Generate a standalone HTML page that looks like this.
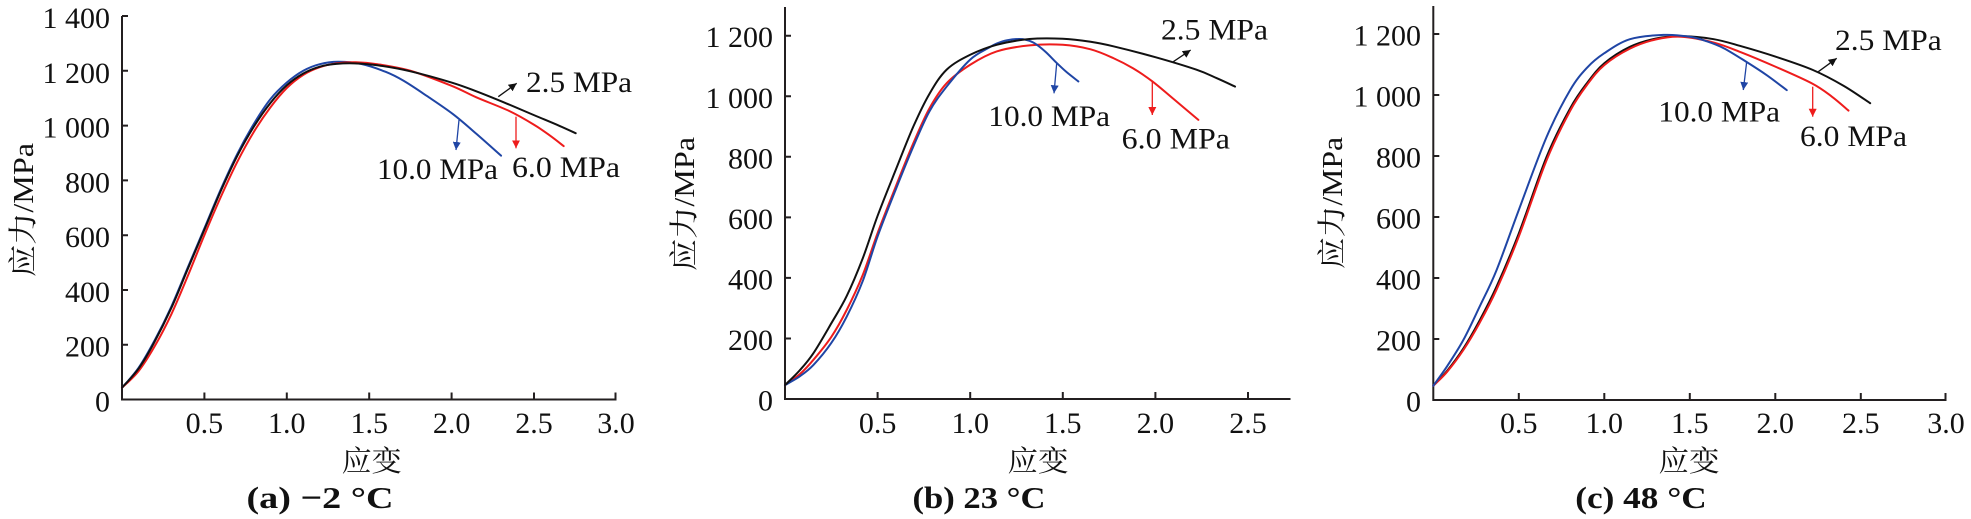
<!DOCTYPE html>
<html><head><meta charset="utf-8"><style>
html,body{margin:0;padding:0;background:#fff;font-family:"Liberation Serif","Times New Roman","DejaVu Serif","Noto Serif CJK SC",serif;}
svg{display:block;}
text{font-family:"Liberation Serif","Times New Roman","DejaVu Serif","Noto Serif CJK SC",serif;}
.t{font-size:30px;fill:#111;}
.cj{font-family:"Liberation Serif","Noto Serif CJK SC","DejaVu Serif",serif;font-size:29px;fill:#111;}
.cap{font-size:31px;font-weight:bold;fill:#111;}
.ax{stroke:#231f20;stroke-width:2;fill:none;}
.c{fill:none;stroke-width:2;stroke-linejoin:round;stroke-linecap:round;}
</style></head><body>
<svg width="1971" height="519" viewBox="0 0 1971 519" xmlns="http://www.w3.org/2000/svg" font-family="'Liberation Serif','DejaVu Serif','Noto Serif CJK SC',serif">
<defs>
<marker id="ak" markerUnits="userSpaceOnUse" markerWidth="10" markerHeight="8" refX="8" refY="4" orient="auto"><path d="M0,0 L8,4 L0,8 z" fill="#111"/></marker>
<marker id="ar" markerUnits="userSpaceOnUse" markerWidth="10" markerHeight="8" refX="8" refY="4" orient="auto"><path d="M0,0 L8,4 L0,8 z" fill="#ee1c1c"/></marker>
<marker id="ab" markerUnits="userSpaceOnUse" markerWidth="10" markerHeight="8" refX="8" refY="4" orient="auto"><path d="M0,0 L8,4 L0,8 z" fill="#1f45a5"/></marker>
</defs>

<!-- ===== Panel A ===== -->
<path class="ax" d="M122,16 V400.5 M121,399.5 H616.5"/>
<path class="ax" d="M122,16 h6 M122,70.8 h6 M122,125.6 h6 M122,180.4 h6 M122,235.2 h6 M122,290 h6 M122,344.7 h6
M204.4,399.5 v-7 M286.8,399.5 v-7 M369.2,399.5 v-7 M451.6,399.5 v-7 M534,399.5 v-7 M615.5,399.5 v-7"/>
<g class="t" text-anchor="end" font-family="'Liberation Serif','DejaVu Serif',serif">
<text x="110" y="411.5">0</text>
<text x="110" y="356.7">200</text>
<text x="110" y="302">400</text>
<text x="110" y="247.2">600</text>
<text x="110" y="192.4">800</text>
<text x="110" y="137.6">1 000</text>
<text x="110" y="82.8">1 200</text>
<text x="110" y="28">1 400</text>
</g>
<g class="t" text-anchor="middle" font-family="'Liberation Serif','DejaVu Serif',serif">
<text x="204.4" y="433">0.5</text>
<text x="286.8" y="433">1.0</text>
<text x="369.2" y="433">1.5</text>
<text x="451.6" y="433">2.0</text>
<text x="534" y="433">2.5</text>
<text x="616" y="433">3.0</text>
</g>
<text class="cj" x="371.7" y="471" text-anchor="middle" textLength="60" lengthAdjust="spacingAndGlyphs">应变</text>
<text class="cj" transform="translate(33,210) rotate(-90)" text-anchor="middle" textLength="134" lengthAdjust="spacingAndGlyphs">应力/MPa</text>
<text class="cap" x="320" y="508" text-anchor="middle" textLength="147" lengthAdjust="spacingAndGlyphs">(a) −2 °C</text>
<g transform="translate(122,399.5) scale(164.8,-0.27395)">
<polyline class="c" vector-effect="non-scaling-stroke" stroke="#1f45a5" points="0,43 0.1,115 0.2,218 0.3,340 0.4,483 0.5,625 0.6,768 0.7,897 0.8,1006 0.9,1096 1.0,1157 1.1,1200 1.2,1224 1.31,1233 1.45,1225 1.6,1196 1.71,1163 1.85,1108 2.01,1041 2.15,970 2.3,890"/>
<polyline class="c" vector-effect="non-scaling-stroke" stroke="#ee1c1c" points="0,43 0.1,103 0.2,196 0.3,312 0.4,452 0.5,600 0.6,740 0.7,868 0.8,977 0.9,1066 1.0,1137 1.1,1185 1.2,1213 1.3,1227 1.42,1231 1.55,1224 1.75,1200 2.0,1145 2.15,1103 2.35,1053 2.5,1003 2.6,962 2.68,925"/>
<polyline class="c" vector-effect="non-scaling-stroke" stroke="#111" points="0,43 0.1,112 0.19,202 0.3,335 0.4,478 0.5,620 0.6,762 0.7,890 0.8,996 0.9,1082 1.0,1147 1.1,1190 1.2,1215 1.3,1225 1.41,1227 1.55,1220 1.75,1198 2.0,1157 2.15,1125 2.32,1084 2.5,1038 2.65,1000 2.753,972"/>
</g>
<line x1="498.3" y1="96.7" x2="516.7" y2="83.3" stroke="#111" stroke-width="1.3" marker-end="url(#ak)"/>
<line x1="459" y1="120" x2="456" y2="150" stroke="#1f45a5" stroke-width="1.3" marker-end="url(#ab)"/>
<line x1="516" y1="116.7" x2="516" y2="148.3" stroke="#ee1c1c" stroke-width="1.3" marker-end="url(#ar)"/>
<g class="t" font-family="'Liberation Serif','DejaVu Serif',serif">
<text x="526" y="92" textLength="106" lengthAdjust="spacingAndGlyphs">2.5 MPa</text>
<text x="377" y="179" textLength="121" lengthAdjust="spacingAndGlyphs">10.0 MPa</text>
<text x="512" y="177" textLength="108" lengthAdjust="spacingAndGlyphs">6.0 MPa</text>
</g>

<!-- ===== Panel B ===== -->
<path class="ax" d="M785,7 V400 M784,399 H1290.5"/>
<path class="ax" d="M785,35.7 h6 M785,96.3 h6 M785,156.8 h6 M785,217.4 h6 M785,277.9 h6 M785,338.5 h6
M877.6,399 v-7 M970.2,399 v-7 M1062.8,399 v-7 M1155.4,399 v-7 M1248,399 v-7"/>
<g class="t" text-anchor="end" font-family="'Liberation Serif','DejaVu Serif',serif">
<text x="773" y="410.5">0</text>
<text x="773" y="350">200</text>
<text x="773" y="289.4">400</text>
<text x="773" y="228.9">600</text>
<text x="773" y="168.3">800</text>
<text x="773" y="107.8">1 000</text>
<text x="773" y="47.2">1 200</text>
</g>
<g class="t" text-anchor="middle" font-family="'Liberation Serif','DejaVu Serif',serif">
<text x="877.6" y="433">0.5</text>
<text x="970.2" y="433">1.0</text>
<text x="1062.8" y="433">1.5</text>
<text x="1155.4" y="433">2.0</text>
<text x="1248" y="433">2.5</text>
</g>
<text class="cj" x="1038" y="471" text-anchor="middle" textLength="61" lengthAdjust="spacingAndGlyphs">应变</text>
<text class="cj" transform="translate(694,204) rotate(-90)" text-anchor="middle" textLength="134" lengthAdjust="spacingAndGlyphs">应力/MPa</text>
<text class="cap" x="979" y="508" text-anchor="middle" textLength="133" lengthAdjust="spacingAndGlyphs">(b) 23 °C</text>
<g transform="translate(785,399) scale(185.2,-0.30275)">
<polyline class="c" vector-effect="non-scaling-stroke" stroke="#ee1c1c" points="0,46 0.08,82 0.153,129 0.25,205 0.333,294 0.42,410 0.5,548 0.6,705 0.693,845 0.78,960 0.873,1043 1.0,1104 1.143,1148 1.32,1168 1.5,1170 1.65,1155 1.773,1126 1.88,1092 1.984,1049 2.1,990 2.232,922"/>
<polyline class="c" vector-effect="non-scaling-stroke" stroke="#1f45a5" points="0,46 0.08,75 0.153,112 0.25,185 0.333,272 0.42,390 0.5,537 0.6,695 0.693,834 0.78,950 0.873,1032 1.0,1121 1.1,1160 1.143,1174 1.2,1185 1.27,1189 1.32,1183 1.36,1170 1.41,1145 1.467,1110 1.52,1080 1.584,1049"/>
<polyline class="c" vector-effect="non-scaling-stroke" stroke="#111" points="0,46 0.08,95 0.153,151 0.25,250 0.333,340 0.42,465 0.5,605 0.6,760 0.693,900 0.78,1008 0.873,1088 1.0,1137 1.143,1170 1.32,1189 1.5,1190 1.65,1180 1.773,1165 2.0,1129 2.22,1088 2.33,1060 2.43,1032"/>
</g>
<line x1="1173.3" y1="61.7" x2="1190.7" y2="50" stroke="#111" stroke-width="1.3" marker-end="url(#ak)"/>
<line x1="1056.7" y1="63.3" x2="1054" y2="93.3" stroke="#1f45a5" stroke-width="1.3" marker-end="url(#ab)"/>
<line x1="1152.3" y1="81.7" x2="1152.3" y2="115" stroke="#ee1c1c" stroke-width="1.3" marker-end="url(#ar)"/>
<g class="t" font-family="'Liberation Serif','DejaVu Serif',serif">
<text x="1161" y="39.5" textLength="107" lengthAdjust="spacingAndGlyphs">2.5 MPa</text>
<text x="988.3" y="126" textLength="121.7" lengthAdjust="spacingAndGlyphs">10.0 MPa</text>
<text x="1121.7" y="148.3" textLength="108.3" lengthAdjust="spacingAndGlyphs">6.0 MPa</text>
</g>

<!-- ===== Panel C ===== -->
<path class="ax" d="M1433.3,6 V401 M1432.3,400 H1946.5"/>
<path class="ax" d="M1433.3,34 h6 M1433.3,95 h6 M1433.3,156 h6 M1433.3,217 h6 M1433.3,278 h6 M1433.3,339 h6
M1518.8,400 v-7 M1604.3,400 v-7 M1689.8,400 v-7 M1775.3,400 v-7 M1860.8,400 v-7 M1945.5,400 v-7"/>
<g class="t" text-anchor="end" font-family="'Liberation Serif','DejaVu Serif',serif">
<text x="1421" y="411.5">0</text>
<text x="1421" y="350.5">200</text>
<text x="1421" y="289.5">400</text>
<text x="1421" y="228.5">600</text>
<text x="1421" y="167.5">800</text>
<text x="1421" y="106.5">1 000</text>
<text x="1421" y="45.5">1 200</text>
</g>
<g class="t" text-anchor="middle" font-family="'Liberation Serif','DejaVu Serif',serif">
<text x="1518.8" y="433">0.5</text>
<text x="1604.3" y="433">1.0</text>
<text x="1689.8" y="433">1.5</text>
<text x="1775.3" y="433">2.0</text>
<text x="1860.8" y="433">2.5</text>
<text x="1946" y="433">3.0</text>
</g>
<text class="cj" x="1689" y="471" text-anchor="middle" textLength="61" lengthAdjust="spacingAndGlyphs">应变</text>
<text class="cj" transform="translate(1342,203) rotate(-90)" text-anchor="middle" textLength="132" lengthAdjust="spacingAndGlyphs">应力/MPa</text>
<text class="cap" x="1641" y="508" text-anchor="middle" textLength="131.5" lengthAdjust="spacingAndGlyphs">(c) 48 °C</text>
<g transform="translate(1433.3,400) scale(171,-0.305)">
<polyline class="c" vector-effect="non-scaling-stroke" stroke="#111" points="0,47 0.08,95 0.176,169 0.27,260 0.37,372 0.5,546 0.663,798 0.8,956 0.9,1040 1.0,1104 1.15,1158 1.3,1185 1.45,1193 1.64,1183 1.8,1160 2.0,1126 2.22,1082 2.4,1030 2.555,973"/>
<polyline class="c" vector-effect="non-scaling-stroke" stroke="#ee1c1c" points="0,47 0.08,92 0.176,164 0.27,252 0.37,362 0.5,536 0.663,787 0.8,948 0.9,1034 1.0,1098 1.15,1152 1.3,1182 1.45,1191 1.64,1172 1.8,1140 2.0,1093 2.214,1038 2.33,995 2.428,949"/>
<polyline class="c" vector-effect="non-scaling-stroke" stroke="#1f45a5" points="0,47 0.08,110 0.176,197 0.27,305 0.37,426 0.5,623 0.663,863 0.8,1016 0.9,1090 1.0,1137 1.15,1183 1.346,1197 1.5,1191 1.6,1176 1.7,1153 1.83,1109 1.95,1065 2.067,1016"/>
</g>
<line x1="1818.3" y1="71.7" x2="1836.7" y2="58.3" stroke="#111" stroke-width="1.3" marker-end="url(#ak)"/>
<line x1="1746.7" y1="61.7" x2="1743.3" y2="90" stroke="#1f45a5" stroke-width="1.3" marker-end="url(#ab)"/>
<line x1="1812.7" y1="86.7" x2="1812.7" y2="116.7" stroke="#ee1c1c" stroke-width="1.3" marker-end="url(#ar)"/>
<g class="t" font-family="'Liberation Serif','DejaVu Serif',serif">
<text x="1835" y="50" textLength="106.7" lengthAdjust="spacingAndGlyphs">2.5 MPa</text>
<text x="1658.3" y="121.7" textLength="121.7" lengthAdjust="spacingAndGlyphs">10.0 MPa</text>
<text x="1800" y="146" textLength="107" lengthAdjust="spacingAndGlyphs">6.0 MPa</text>
</g>
</svg>
<script>
(function(){
  var NS="http://www.w3.org/2000/svg";
  var pls=document.querySelectorAll("polyline.c");
  for(var k=0;k<pls.length;k++){
    var pl=pls[k];
    var pts=pl.getAttribute("points").trim().split(/\s+/).map(function(p){return p.split(",").map(Number);});
    var n=pts.length;
    var d="M"+pts[0][0]+","+pts[0][1];
    for(var i=0;i<n-1;i++){
      var p0=pts[i>0?i-1:i],p1=pts[i],p2=pts[i+1],p3=pts[i+2<n?i+2:i+1];
      var c1x=p1[0]+(p2[0]-p0[0])/6,c1y=p1[1]+(p2[1]-p0[1])/6;
      var c2x=p2[0]-(p3[0]-p1[0])/6,c2y=p2[1]-(p3[1]-p1[1])/6;
      d+=" C"+c1x+","+c1y+" "+c2x+","+c2y+" "+p2[0]+","+p2[1];
    }
    var path=document.createElementNS(NS,"path");
    path.setAttribute("d",d);
    path.setAttribute("class","c");
    path.setAttribute("stroke",pl.getAttribute("stroke"));
    path.setAttribute("vector-effect","non-scaling-stroke");
    pl.parentNode.replaceChild(path,pl);
  }
})();
</script>
</body></html>
